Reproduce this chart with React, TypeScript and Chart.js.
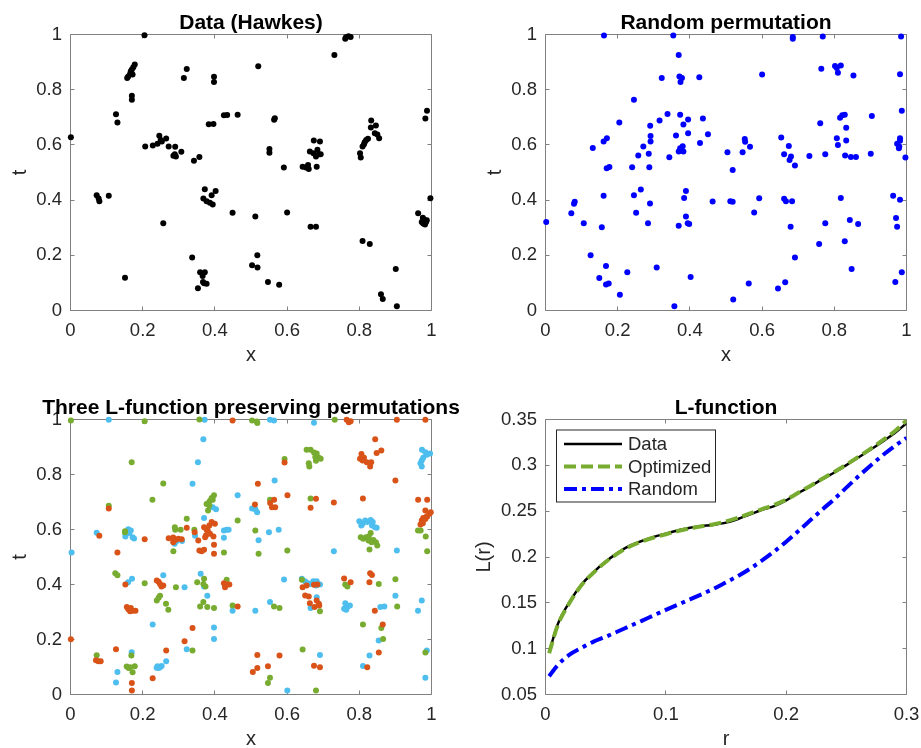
import React, { useEffect, useRef } from 'react';
import { Chart, registerables } from 'chart.js';
Chart.register(...registerables);

const W = 921;
const H = 748;
const CW = 980; // canvas width (wider than page so the last x tick label never squeezes the plot)
const FONT = '"Liberation Sans", Arial, Helvetica, sans-serif';
const TEXT = '#262626';
const AXIS = '#808080';
const C_BLACK = '#000000';
const C_BLUE = '#0000FF';
const C_ORANGE = '#D95319';
const C_GREEN = '#77AC30';
const C_CYAN = '#4DBEEE';

type Pt = [number, number];

// ---------- Data (Hawkes) ----------
const hawkesPts: Pt[] = [
  [0.205, 0.997], [0.178, 0.891], [0.174, 0.881], [0.170, 0.873], [0.167, 0.867], [0.165, 0.857], [0.160, 0.848], [0.172, 0.855], [0.157, 0.842],
  [0.170, 0.778], [0.170, 0.764], [0.126, 0.711], [0.130, 0.681], [0.001, 0.628], [0.207, 0.594],
  [0.228, 0.598], [0.241, 0.604], [0.246, 0.633], [0.253, 0.612], [0.250, 0.618], [0.265, 0.623], [0.272, 0.594], [0.290, 0.593],
  [0.289, 0.566], [0.285, 0.561], [0.292, 0.558], [0.307, 0.575],
  [0.314, 0.842], [0.322, 0.875], [0.3975, 0.847], [0.3975, 0.828], [0.342, 0.543], [0.357, 0.556],
  [0.383, 0.675], [0.396, 0.676], [0.425, 0.707], [0.434, 0.708], [0.463, 0.709], [0.520, 0.885],
  [0.0725, 0.418], [0.078, 0.406], [0.080, 0.396], [0.106, 0.416],
  [0.372, 0.439], [0.402, 0.433], [0.368, 0.406], [0.377, 0.396], [0.386, 0.390], [0.394, 0.384], [0.391, 0.418],
  [0.449, 0.354], [0.512, 0.341], [0.257, 0.316], [0.337, 0.192], [0.5175, 0.200], [0.503, 0.164], [0.518, 0.156], [0.151, 0.119],
  [0.359, 0.139], [0.372, 0.139], [0.366, 0.125], [0.370, 0.099], [0.377, 0.097], [0.367, 0.103], [0.353, 0.081],
  [0.763, 0.990], [0.770, 0.994], [0.776, 0.991], [0.761, 0.985], [0.731, 0.926],
  [0.9875, 0.724], [0.983, 0.696], [0.566, 0.697], [0.564, 0.691],
  [0.833, 0.688], [0.832, 0.663], [0.846, 0.670], [0.843, 0.642], [0.850, 0.638], [0.855, 0.624], [0.819, 0.618], [0.815, 0.610],
  [0.809, 0.594], [0.813, 0.602], [0.824, 0.622], [0.802, 0.570], [0.804, 0.554],
  [0.674, 0.616], [0.691, 0.612], [0.663, 0.576], [0.673, 0.570], [0.684, 0.582], [0.688, 0.566], [0.693, 0.566], [0.680, 0.558],
  [0.551, 0.585], [0.551, 0.572], [0.591, 0.518], [0.643, 0.521], [0.652, 0.518], [0.660, 0.513], [0.658, 0.527], [0.682, 0.521],
  [0.997, 0.407], [0.600, 0.355], [0.665, 0.303], [0.680, 0.303],
  [0.963, 0.352], [0.976, 0.336], [0.980, 0.330], [0.985, 0.321], [0.973, 0.321], [0.982, 0.312], [0.977, 0.315], [0.987, 0.327],
  [0.809, 0.252], [0.829, 0.241], [0.547, 0.103], [0.578, 0.093], [0.901, 0.150], [0.860, 0.059], [0.865, 0.042], [0.904, 0.015],
];

// ---------- Random permutation ----------
const randomPts: Pt[] = [
  [0.162, 0.996], [0.354, 0.996], [0.369, 0.926], [0.322, 0.842], [0.371, 0.848], [0.378, 0.842], [0.374, 0.828], [0.426, 0.845],
  [0.245, 0.764], [0.338, 0.712], [0.373, 0.709], [0.436, 0.696], [0.316, 0.688], [0.395, 0.692], [0.2045, 0.681], [0.382, 0.674],
  [0.290, 0.669], [0.395, 0.642], [0.450, 0.639], [0.3615, 0.634], [0.291, 0.632], [0.291, 0.612], [0.170, 0.624], [0.161, 0.612],
  [0.428, 0.607], [0.271, 0.594], [0.380, 0.595], [0.373, 0.588], [0.369, 0.576], [0.382, 0.576], [0.376, 0.585], [0.131, 0.589],
  [0.257, 0.562], [0.286, 0.568], [0.343, 0.555], [0.504, 0.573], [0.1695, 0.515], [0.177, 0.520], [0.240, 0.519], [0.2875, 0.519],
  [0.5185, 0.509], [0.264, 0.438], [0.245, 0.418], [0.161, 0.416], [0.389, 0.433], [0.384, 0.408], [0.081, 0.394], [0.079, 0.387],
  [0.463, 0.395], [0.512, 0.396], [0.5185, 0.394], [0.2895, 0.388], [0.0715, 0.352], [0.251, 0.354], [0.389, 0.341], [0.002, 0.321],
  [0.106, 0.316], [0.284, 0.316], [0.156, 0.302], [0.369, 0.307], [0.394, 0.316], [0.398, 0.313], [0.125, 0.200], [0.1676, 0.161],
  [0.2266, 0.139], [0.308, 0.156], [0.149, 0.118], [0.402, 0.121], [0.1676, 0.0945], [0.175, 0.098], [0.206, 0.057], [0.357, 0.015],
  [0.520, 0.040],
  [0.685, 0.991], [0.685, 0.985], [0.768, 0.993], [0.985, 0.993], [0.600, 0.855], [0.764, 0.876], [0.802, 0.886], [0.818, 0.888],
  [0.810, 0.861], [0.807, 0.879], [0.853, 0.851], [0.982, 0.856], [0.987, 0.724], [0.904, 0.705], [0.816, 0.698], [0.822, 0.707],
  [0.829, 0.709], [0.761, 0.678], [0.833, 0.662], [0.653, 0.627], [0.552, 0.621], [0.553, 0.611], [0.807, 0.624], [0.810, 0.600],
  [0.833, 0.616], [0.982, 0.624], [0.982, 0.615], [0.974, 0.604], [0.979, 0.588], [0.980, 0.594], [0.674, 0.596], [0.546, 0.573],
  [0.5665, 0.593], [0.661, 0.566], [0.680, 0.558], [0.676, 0.545], [0.691, 0.525], [0.731, 0.560], [0.775, 0.566], [0.830, 0.562],
  [0.846, 0.556], [0.860, 0.556], [0.901, 0.568], [0.997, 0.554], [0.592, 0.407], [0.661, 0.405], [0.666, 0.396], [0.683, 0.396],
  [0.818, 0.408], [0.963, 0.416], [0.982, 0.401], [0.578, 0.355], [0.843, 0.328], [0.866, 0.313], [0.775, 0.316], [0.971, 0.335],
  [0.974, 0.303], [0.679, 0.303], [0.829, 0.251], [0.758, 0.241], [0.691, 0.192], [0.848, 0.150], [0.987, 0.139], [0.563, 0.098],
  [0.664, 0.102], [0.644, 0.080], [0.969, 0.103],
];

// ---------- Three L-function preserving permutations ----------
const permOrange: Pt[] = [
  [0.449, 0.996], [0.106, 0.676], [0.0798, 0.577], [0.130, 0.516], [0.2055, 0.565], [0.272, 0.568], [0.2845, 0.571], [0.290, 0.562],
  [0.2845, 0.554], [0.2986, 0.566], [0.308, 0.565], [0.322, 0.606], [0.344, 0.590], [0.354, 0.560], [0.357, 0.524], [0.3633, 0.521],
  [0.370, 0.526], [0.370, 0.608], [0.377, 0.599], [0.3846, 0.615], [0.391, 0.627], [0.400, 0.621], [0.3864, 0.585], [0.396, 0.575],
  [0.3755, 0.579], [0.380, 0.597], [0.373, 0.572], [0.3975, 0.545], [0.3975, 0.512], [0.511, 0.691], [0.519, 0.766], [0.152, 0.400],
  [0.239, 0.415], [0.244, 0.410], [0.248, 0.402], [0.252, 0.393], [0.257, 0.396], [0.425, 0.405], [0.433, 0.400], [0.428, 0.390],
  [0.440, 0.400], [0.463, 0.320], [0.156, 0.318], [0.160, 0.310], [0.167, 0.315], [0.172, 0.305], [0.180, 0.305], [0.165, 0.303],
  [0.338, 0.242], [0.316, 0.194], [0.001, 0.201], [0.126, 0.165], [0.265, 0.160], [0.0706, 0.125], [0.077, 0.121], [0.0836, 0.121],
  [0.2276, 0.059], [0.170, 0.042], [0.170, 0.015], [0.5175, 0.144], [0.5175, 0.096], [0.505, 0.082],
  [0.765, 0.999], [0.771, 0.990], [0.776, 0.994], [0.904, 0.999], [0.983, 0.999], [0.844, 0.928], [0.848, 0.878], [0.861, 0.887],
  [0.806, 0.875], [0.813, 0.861], [0.802, 0.857], [0.809, 0.851], [0.8205, 0.845], [0.833, 0.845], [0.830, 0.829], [0.593, 0.844],
  [0.900, 0.778], [0.601, 0.725], [0.553, 0.696], [0.564, 0.708], [0.558, 0.681], [0.567, 0.681], [0.665, 0.679], [0.680, 0.712],
  [0.7295, 0.698], [0.810, 0.713], [0.963, 0.708], [0.988, 0.708], [0.983, 0.669], [0.998, 0.663], [0.987, 0.647], [0.977, 0.642],
  [0.973, 0.633], [0.9695, 0.618], [0.976, 0.623], [0.983, 0.638], [0.988, 0.647], [0.994, 0.657], [0.758, 0.422], [0.776, 0.408],
  [0.830, 0.441], [0.835, 0.435], [0.828, 0.408], [0.643, 0.390], [0.654, 0.396], [0.6745, 0.399], [0.684, 0.400], [0.650, 0.360],
  [0.660, 0.356], [0.663, 0.332], [0.682, 0.342], [0.688, 0.330], [0.676, 0.318], [0.689, 0.324], [0.843, 0.305], [0.865, 0.255],
  [0.854, 0.153], [0.579, 0.142], [0.6745, 0.105], [0.691, 0.099], [0.822, 0.099], [0.547, 0.103],
];

const permGreen: Pt[] = [
  [0.001, 0.996], [0.2055, 0.994], [0.357, 1.0], [0.503, 0.996], [0.516, 0.993], [0.1695, 0.845], [0.257, 0.767], [0.227, 0.708],
  [0.106, 0.686], [0.3975, 0.725], [0.391, 0.715], [0.3865, 0.705], [0.382, 0.696], [0.377, 0.693], [0.3846, 0.687], [0.381, 0.669],
  [0.394, 0.708], [0.322, 0.639], [0.463, 0.633], [0.289, 0.608], [0.290, 0.599], [0.305, 0.599], [0.285, 0.521], [0.151, 0.590],
  [0.151, 0.594], [0.343, 0.599], [0.512, 0.596], [0.425, 0.516], [0.521, 0.512], [0.124, 0.441], [0.130, 0.434], [0.2055, 0.405],
  [0.292, 0.390], [0.248, 0.359], [0.244, 0.352], [0.239, 0.342], [0.2645, 0.330], [0.271, 0.308], [0.351, 0.408], [0.370, 0.421],
  [0.368, 0.402], [0.374, 0.393], [0.368, 0.336], [0.359, 0.320], [0.379, 0.318], [0.3975, 0.315], [0.4326, 0.417], [0.449, 0.324],
  [0.338, 0.160], [0.0725, 0.143], [0.1686, 0.142], [0.1556, 0.102], [0.165, 0.099], [0.178, 0.103], [0.172, 0.081], [0.161, 0.096],
  [0.5175, 0.987], [0.732, 0.999], [0.593, 0.856], [0.654, 0.890], [0.665, 0.890], [0.6745, 0.880], [0.682, 0.876], [0.688, 0.861],
  [0.693, 0.857], [0.680, 0.850], [0.660, 0.841], [0.6615, 0.829], [0.678, 0.864], [0.5526, 0.708], [0.665, 0.713], [0.6006, 0.524],
  [0.804, 0.572], [0.811, 0.566], [0.8186, 0.572], [0.8262, 0.575], [0.8316, 0.587], [0.839, 0.562], [0.846, 0.554], [0.8498, 0.542],
  [0.834, 0.554], [0.8255, 0.560], [0.8283, 0.527], [0.9626, 0.596], [0.970, 0.596], [0.984, 0.575], [0.988, 0.521], [0.641, 0.417],
  [0.761, 0.400], [0.767, 0.393], [0.854, 0.402], [0.900, 0.419], [0.5637, 0.320], [0.579, 0.315], [0.691, 0.303], [0.905, 0.320],
  [0.8101, 0.255], [0.861, 0.242], [0.866, 0.202], [0.643, 0.164], [0.983, 0.153], [0.5526, 0.061], [0.547, 0.042], [0.680, 0.015],
];

const permCyan: Pt[] = [
  [0.106, 0.999], [0.3716, 0.999], [0.368, 0.928], [0.353, 0.845], [0.338, 0.766], [0.463, 0.725], [0.503, 0.676], [0.512, 0.674],
  [0.403, 0.674], [0.394, 0.681], [0.370, 0.642], [0.0725, 0.588], [0.160, 0.601], [0.167, 0.596], [0.152, 0.575], [0.172, 0.572],
  [0.176, 0.567], [0.163, 0.587], [0.152, 0.585], [0.003, 0.516], [0.2886, 0.548], [0.294, 0.558], [0.309, 0.558], [0.345, 0.577],
  [0.425, 0.596], [0.4326, 0.599], [0.438, 0.599], [0.425, 0.570], [0.521, 0.561], [0.1596, 0.408], [0.1704, 0.421], [0.257, 0.434],
  [0.316, 0.390], [0.3606, 0.439], [0.370, 0.393], [0.379, 0.359], [0.449, 0.305], [0.512, 0.305], [0.2276, 0.255], [0.3975, 0.244],
  [0.3975, 0.202], [0.322, 0.165], [0.1695, 0.154], [0.265, 0.121], [0.241, 0.103], [0.248, 0.099], [0.2442, 0.096], [0.2525, 0.104],
  [0.2387, 0.097], [0.130, 0.082], [0.126, 0.044],
  [0.5526, 0.999], [0.5637, 0.996], [0.6745, 0.988], [0.9737, 0.890], [0.983, 0.881], [0.996, 0.876], [0.977, 0.861], [0.973, 0.851],
  [0.9695, 0.841], [0.973, 0.829], [0.987, 0.872], [0.5654, 0.778], [0.517, 0.663], [0.5497, 0.590], [0.5767, 0.599], [0.7295, 0.521],
  [0.800, 0.630], [0.809, 0.621], [0.8165, 0.633], [0.822, 0.627], [0.8316, 0.635], [0.8372, 0.627], [0.8435, 0.608], [0.8352, 0.615],
  [0.8482, 0.606], [0.8056, 0.615], [0.904, 0.524], [0.5915, 0.418], [0.641, 0.421], [0.6496, 0.412], [0.6576, 0.405], [0.6634, 0.402],
  [0.6726, 0.412], [0.682, 0.412], [0.691, 0.400], [0.680, 0.396], [0.682, 0.354], [0.665, 0.315], [0.5526, 0.336], [0.7613, 0.332],
  [0.767, 0.318], [0.774, 0.324], [0.758, 0.312], [0.7636, 0.308], [0.8583, 0.318], [0.8694, 0.320], [0.900, 0.359], [0.973, 0.342],
  [0.9626, 0.305], [0.8537, 0.196], [0.8283, 0.142], [0.691, 0.144], [0.8101, 0.104], [0.987, 0.160], [0.983, 0.061], [0.6006, 0.015],
];

// ---------- L-function ----------
const rGrid = [0.003, 0.01, 0.02, 0.03, 0.04, 0.05, 0.06, 0.07, 0.08, 0.09, 0.10, 0.11, 0.12, 0.13, 0.14, 0.15,
  0.16, 0.17, 0.18, 0.19, 0.20, 0.21, 0.22, 0.23, 0.24, 0.25, 0.26, 0.27, 0.28, 0.29, 0.30];
const lData = [0.096, 0.126, 0.151, 0.170, 0.1835, 0.195, 0.2045, 0.2125, 0.2175, 0.222, 0.2255, 0.229, 0.232, 0.2337, 0.2352, 0.2375,
  0.2415, 0.2465, 0.2515, 0.2555, 0.2618, 0.2697, 0.277, 0.285, 0.2922, 0.3002, 0.3085, 0.317, 0.3258, 0.335, 0.346];
const lOptimized = [0.095, 0.125, 0.150, 0.1695, 0.183, 0.1945, 0.204, 0.2115, 0.2168, 0.2213, 0.2248, 0.2283, 0.2313, 0.2335, 0.2358, 0.2388,
  0.2428, 0.2475, 0.2522, 0.2568, 0.2625, 0.270, 0.2775, 0.2853, 0.2928, 0.3007, 0.3092, 0.318, 0.3272, 0.337, 0.349];
const lRandom = [0.070, 0.0818, 0.0935, 0.101, 0.1077, 0.113, 0.1187, 0.1246, 0.1304, 0.1364, 0.1423, 0.148, 0.1537, 0.1595, 0.1655, 0.1724,
  0.1793, 0.1872, 0.1963, 0.206, 0.2166, 0.2282, 0.240, 0.2518, 0.2632, 0.2757, 0.288, 0.2996, 0.3108, 0.3209, 0.330];

// ---------- ticks ----------
const unitTicks = [0, 0.2, 0.4, 0.6, 0.8, 1];
const rTicks = [0, 0.1, 0.2, 0.3];
const lTicks = [0.05, 0.1, 0.15, 0.2, 0.25, 0.3, 0.35];

type Area = { left: number; top: number; right: number; bottom: number };
interface PanelSpec {
  area: Area;
  title: string;
  xLabel: string;
  yLabel: string;
  yLabelX: number;
  xRange: [number, number];
  yRange: [number, number];
  xTicks: number[];
  yTicks: number[];
  legend?: boolean;
}

function toXY(pts: Pt[]) {
  return pts.map(([x, y]) => ({ x, y }));
}

function makePlugin(spec: PanelSpec) {
  return {
    id: 'matlabAxes',
    beforeDatasetsDraw(chart: any) {
      const { ctx, chartArea: a, scales } = chart;
      const xs = scales.x;
      const ys = scales.y;
      const tl = 4;
      ctx.save();
      ctx.strokeStyle = AXIS;
      ctx.lineWidth = 1;
      ctx.beginPath();
      ctx.rect(a.left, a.top, a.right - a.left, a.bottom - a.top);
      for (const t of xs.ticks) {
        const p = Math.round(xs.getPixelForValue(t.value) - 0.5) + 0.5;
        ctx.moveTo(p, a.bottom); ctx.lineTo(p, a.bottom - tl);
        ctx.moveTo(p, a.top); ctx.lineTo(p, a.top + tl);
      }
      for (const t of ys.ticks) {
        const p = Math.round(ys.getPixelForValue(t.value) - 0.5) + 0.5;
        ctx.moveTo(a.left, p); ctx.lineTo(a.left + tl, p);
        ctx.moveTo(a.right, p); ctx.lineTo(a.right - tl, p);
      }
      ctx.stroke();
      ctx.restore();
    },
    afterDraw(chart: any) {
      const { ctx, chartArea: a } = chart;
      ctx.save();
      const cx = (a.left + a.right) / 2;
      const cy = (a.top + a.bottom) / 2;
      ctx.fillStyle = '#000';
      ctx.font = `bold 21px ${FONT}`;
      ctx.textAlign = 'center';
      ctx.textBaseline = 'alphabetic';
      ctx.fillText(spec.title, cx, a.top - 5.5);
      ctx.fillStyle = TEXT;
      ctx.font = `20px ${FONT}`;
      ctx.fillText(spec.xLabel, cx, a.bottom + 50);
      ctx.save();
      ctx.translate(a.left + spec.yLabelX, cy);
      ctx.rotate(-Math.PI / 2);
      ctx.textAlign = 'center';
      ctx.fillText(spec.yLabel, 0, 0);
      ctx.restore();
      if (spec.legend) {
        const lx = a.left + 11;
        const ly = a.top + 10.5;
        const lw = 159;
        const lh = 72;
        ctx.fillStyle = '#fff';
        ctx.fillRect(lx, ly, lw, lh);
        ctx.strokeStyle = TEXT;
        ctx.lineWidth = 1;
        ctx.strokeRect(lx, ly, lw, lh);
        const dsList = chart.data.datasets;
        dsList.forEach((ds: any, i: number) => {
          const y = ly + 14 + i * 22.5;
          ctx.save();
          ctx.strokeStyle = ds.borderColor;
          ctx.lineWidth = ds.borderWidth;
          ctx.setLineDash(ds.borderDash || []);
          ctx.beginPath();
          ctx.moveTo(lx + 7.5, y);
          ctx.lineTo(lx + 65.5, y);
          ctx.stroke();
          ctx.restore();
          ctx.fillStyle = TEXT;
          ctx.font = `18.5px ${FONT}`;
          ctx.textAlign = 'left';
          ctx.textBaseline = 'middle';
          ctx.fillText(ds.label, lx + 71.5, y + 1);
        });
      }
      ctx.restore();
    },
  };
}

function makeConfig(spec: PanelSpec, type: string, datasets: any[]) {
  const tickFont = { family: FONT, size: 18.5 };
  const fmt = (v: any) => String(v);
  return {
    type,
    data: { datasets },
    options: {
      responsive: false,
      maintainAspectRatio: false,
      animation: false,
      devicePixelRatio: 1,
      events: [],
      layout: {
        padding: {
          left: spec.area.left - 60,
          top: spec.area.top,
          right: CW - spec.area.right,
          bottom: H - spec.area.bottom - 60,
        },
      },
      plugins: {
        legend: { display: false },
        tooltip: { enabled: false },
        title: { display: false },
      },
      scales: {
        x: {
          type: 'linear',
          position: 'bottom',
          min: spec.xRange[0],
          max: spec.xRange[1],
          afterBuildTicks: (s: any) => { s.ticks = spec.xTicks.map((v) => ({ value: v })); },
          afterFit: (s: any) => { s.height = 60; },
          ticks: { font: tickFont, color: TEXT, padding: 9.4, autoSkip: false, maxRotation: 0, minRotation: 0, callback: fmt },
          grid: { display: false, drawTicks: false },
          border: { display: false },
        },
        y: {
          type: 'linear',
          position: 'left',
          min: spec.yRange[0],
          max: spec.yRange[1],
          afterBuildTicks: (s: any) => { s.ticks = spec.yTicks.map((v) => ({ value: v })); },
          afterFit: (s: any) => { s.width = 60; },
          ticks: { font: tickFont, color: TEXT, padding: 8.5, autoSkip: false, callback: fmt },
          grid: { display: false, drawTicks: false },
          border: { display: false },
        },
      },
    },
    plugins: [makePlugin(spec)],
  };
}

function scatterSet(label: string, pts: Pt[], color: string, order: number) {
  return {
    label,
    data: toXY(pts),
    backgroundColor: color,
    borderColor: color,
    borderWidth: 0,
    pointRadius: 3,
    pointHoverRadius: 3,
    pointStyle: 'circle',
    clip: false,
    order,
  };
}

function lineSet(label: string, ys: number[], color: string, width: number, dash: number[], order: number) {
  return {
    label,
    data: rGrid.map((r, i) => ({ x: r, y: ys[i] })),
    borderColor: color,
    backgroundColor: color,
    borderWidth: width,
    borderDash: dash,
    pointRadius: 0,
    fill: false,
    cubicInterpolationMode: 'monotone',
    borderCapStyle: 'butt',
    order,
  };
}

const specA: PanelSpec = {
  area: { left: 70.5, top: 34.5, right: 431.5, bottom: 310.5 },
  title: 'Data (Hawkes)', xLabel: 'x', yLabel: 't', yLabelX: -45,
  xRange: [0, 1], yRange: [0, 1], xTicks: unitTicks, yTicks: unitTicks,
};
const specB: PanelSpec = {
  area: { left: 545.5, top: 34.5, right: 906.5, bottom: 310.5 },
  title: 'Random permutation', xLabel: 'x', yLabel: 't', yLabelX: -45,
  xRange: [0, 1], yRange: [0, 1], xTicks: unitTicks, yTicks: unitTicks,
};
const specC: PanelSpec = {
  area: { left: 70.5, top: 419.5, right: 431.5, bottom: 694.5 },
  title: 'Three L-function preserving permutations', xLabel: 'x', yLabel: 't', yLabelX: -45,
  xRange: [0, 1], yRange: [0, 1], xTicks: unitTicks, yTicks: unitTicks,
};
const specD: PanelSpec = {
  area: { left: 545.5, top: 419.5, right: 906.5, bottom: 694.5 },
  title: 'L-function', xLabel: 'r', yLabel: 'L(r)', yLabelX: -56,
  xRange: [0, 0.3], yRange: [0.05, 0.35], xTicks: rTicks, yTicks: lTicks, legend: true,
};

function Panel({ build }: { build: () => any }) {
  const ref = useRef<HTMLCanvasElement | null>(null);
  useEffect(() => {
    if (!ref.current) return;
    const chart = new Chart(ref.current, build());
    return () => chart.destroy();
  }, []);
  return (
    <canvas
      ref={ref}
      width={CW}
      height={H}
      style={{ position: 'absolute', left: 0, top: 0, width: CW, height: H }}
    />
  );
}

export default function App() {
  return (
    <div style={{ position: 'absolute', left: 0, top: 0, width: W, height: H, background: '#fff', overflow: 'hidden' }}>
      <Panel build={() => makeConfig(specA, 'scatter', [scatterSet('Data', hawkesPts, C_BLACK, 0)])} />
      <Panel build={() => makeConfig(specB, 'scatter', [scatterSet('Random', randomPts, C_BLUE, 0)])} />
      <Panel
        build={() =>
          makeConfig(specC, 'scatter', [
            scatterSet('Permutation 1', permOrange, C_ORANGE, 1),
            scatterSet('Permutation 2', permGreen, C_GREEN, 2),
            scatterSet('Permutation 3', permCyan, C_CYAN, 3),
          ])
        }
      />
      <Panel
        build={() =>
          makeConfig(specD, 'line', [
            lineSet('Data', lData, C_BLACK, 2.5, [], 3),
            lineSet('Optimized', lOptimized, C_GREEN, 4, [12, 5], 2),
            lineSet('Random', lRandom, C_BLUE, 4, [13, 5, 4, 5], 1),
          ])
        }
      />
    </div>
  );
}
